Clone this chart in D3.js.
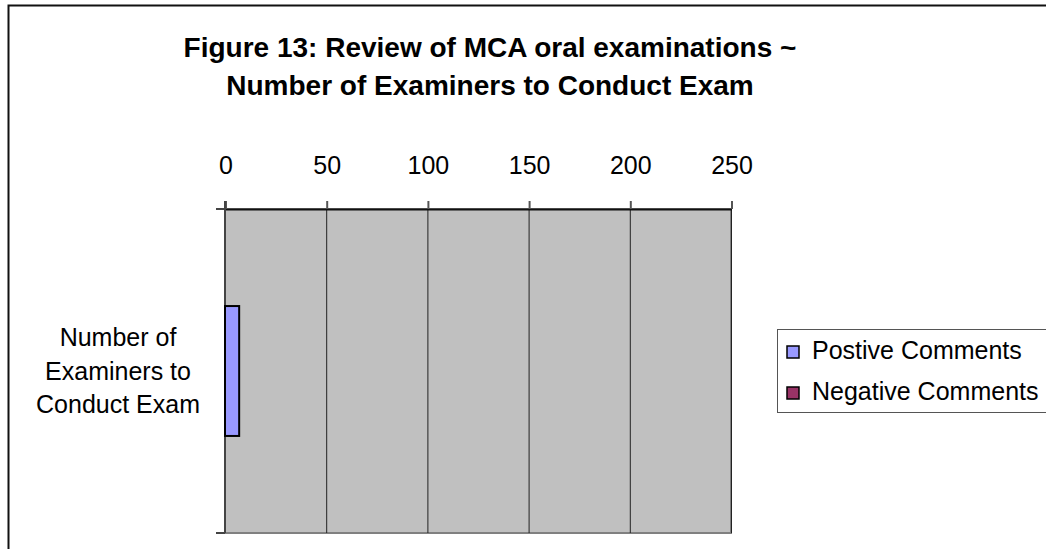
<!DOCTYPE html>
<html>
<head>
<meta charset="utf-8">
<script src="https://cdn.jsdelivr.net/npm/d3@7"></script>
<style>
  body { margin: 0; background: #fff; }
  text { font-family: "Liberation Sans", Arial, sans-serif; }
</style>
</head>
<body>
<div class="chart-container"></div>
<script>
const WIDTH = 1046;
const HEIGHT = 549;

const categories = ["Number of Examiners to Conduct Exam"];
const categoryLines = [["Number of", "Examiners to", "Conduct Exam"]];
const seriesNames = ["Postive Comments", "Negative Comments"];
const positiveValues = [7];
const negativeValues = [0];
const xTicks = [0, 50, 100, 150, 200, 250];
const titleLines = ["Figure 13: Review of MCA oral examinations ~", "Number of Examiners to Conduct Exam"];

const POS_COLOR = "#9999ff";
const NEG_COLOR = "#993366";

const plot = { left: 225, top: 209, right: 731, bottom: 533 };

const svg = d3.select(".chart-container")
  .append("svg")
  .attr("width", WIDTH)
  .attr("height", HEIGHT);

// chart border
svg.append("rect")
  .attr("x", 8.5).attr("y", 5.5)
  .attr("width", WIDTH + 20).attr("height", HEIGHT + 20)
  .attr("fill", "white").attr("stroke", "#111").attr("stroke-width", 2);

// title
svg.append("g")
  .selectAll("text")
  .data(titleLines)
  .join("text")
  .attr("x", 490)
  .attr("y", (d, i) => 57 + i * 38)
  .attr("text-anchor", "middle")
  .attr("font-size", "28px")
  .attr("font-weight", "bold")
  .text(d => d);

const x = d3.scaleLinear().domain([0, 250]).range([plot.left, plot.right]);
const y = d3.scaleBand().domain(categories).range([plot.top, plot.bottom])
  .paddingInner(0.4276).paddingOuter(0.4276);

// plot area
svg.append("rect")
  .attr("x", plot.left).attr("y", plot.top)
  .attr("width", plot.right - plot.left).attr("height", plot.bottom - plot.top)
  .attr("fill", "#c0c0c0").attr("stroke", "#808080").attr("stroke-width", 2);

// gridlines
svg.append("g")
  .selectAll("line")
  .data(xTicks)
  .join("line")
  .attr("x1", d => x(d) + 0.5).attr("x2", d => x(d) + 0.5)
  .attr("y1", plot.top).attr("y2", plot.bottom)
  .attr("stroke", "#222").attr("stroke-width", 1);

// top axis
const xAxis = svg.append("g")
  .attr("transform", `translate(0.5,${plot.top})`)
  .call(d3.axisTop(x).tickValues(xTicks).tickSize(8).tickPadding(27).tickSizeOuter(0));
xAxis.select(".domain").attr("stroke", "#111").attr("stroke-width", 2);
xAxis.selectAll(".tick line").attr("stroke", "#555").attr("stroke-width", 2);
xAxis.selectAll(".tick text")
  .attr("font-size", "25px").attr("fill", "#000")
  .attr("font-family", "Liberation Sans, Arial, sans-serif");

// left axis (category boundaries)
svg.append("line")
  .attr("x1", plot.left).attr("x2", plot.left)
  .attr("y1", plot.top - 8).attr("y2", plot.bottom)
  .attr("stroke", "#444").attr("stroke-width", 2);
svg.append("g")
  .selectAll("line")
  .data([plot.top, plot.bottom])
  .join("line")
  .attr("x1", plot.left - 9).attr("x2", plot.left)
  .attr("y1", d => d).attr("y2", d => d)
  .attr("stroke", "#444").attr("stroke-width", 2);

// category label
categories.forEach((c, ci) => {
  svg.append("g")
    .selectAll("text")
    .data(categoryLines[ci])
    .join("text")
    .attr("x", 118)
    .attr("y", (d, i) => y(c) + y.bandwidth() / 2 - 25 + i * 33.5)
    .attr("text-anchor", "middle")
    .attr("font-size", "25px")
    .text(d => d);
});

// bars
const barData = categories.flatMap((c, i) => [
  { cat: c, value: positiveValues[i], color: POS_COLOR },
  { cat: c, value: negativeValues[i], color: NEG_COLOR },
]);
svg.append("g")
  .selectAll("rect")
  .data(barData.filter(d => d.value > 0))
  .join("rect")
  .attr("x", x(0))
  .attr("y", d => y(d.cat))
  .attr("width", d => x(d.value) - x(0))
  .attr("height", y.bandwidth())
  .attr("fill", d => d.color)
  .attr("stroke", "#000")
  .attr("stroke-width", 2);

// legend
const legend = svg.append("g");
legend.append("rect")
  .attr("x", 777.5).attr("y", 329.5)
  .attr("width", 300).attr("height", 83)
  .attr("fill", "white").attr("stroke", "#555").attr("stroke-width", 1);
const items = legend.selectAll("g")
  .data(seriesNames)
  .join("g")
  .attr("transform", (d, i) => `translate(787,${346 + i * 41})`);
items.append("rect")
  .attr("width", 12).attr("height", 12)
  .attr("fill", (d, i) => i === 0 ? POS_COLOR : NEG_COLOR)
  .attr("stroke", "#000").attr("stroke-width", 1.5);
items.append("text")
  .attr("x", 25).attr("y", 13)
  .attr("font-size", "25px")
  .text(d => d);
</script>
</body>
</html>
